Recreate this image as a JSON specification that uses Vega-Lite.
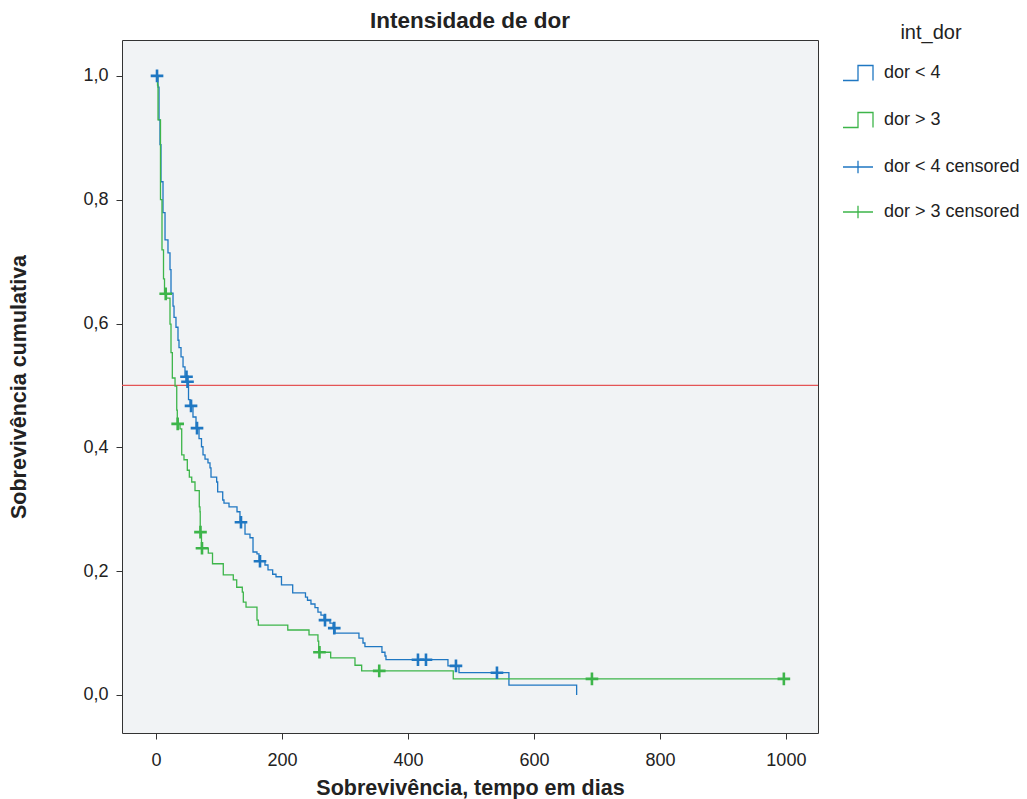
{
  "$schema": "https://vega.github.io/schema/vega-lite/v6.json",
  "autosize": "none",
  "width": 696,
  "height": 693,
  "padding": {"left": 122, "top": 40, "right": 209, "bottom": 66},
  "background": "white",
  "config": {
    "font": "Liberation Sans",
    "view": {"fill": "#f1f3f5", "stroke": "#333333", "strokeWidth": 1},
    "axis": {"grid": false, "domain": false, "tickColor": "#333333", "tickSize": 6, "labelFontSize": 18, "labelColor": "#222222", "titleFontSize": 21.5, "titleFontWeight": "bold", "titleColor": "#222222", "labelFont": "Liberation Sans", "titleFont": "Liberation Sans"}
  },
  "title": {"text": "Intensidade de dor", "fontSize": 22.5, "fontWeight": "bold", "font": "Liberation Sans", "color": "#222222", "offset": -9, "anchor": "middle"},
  "datasets": {
    "curve": [
      {"series": "dor < 4", "t": 0, "s": 1.0},
      {"series": "dor < 4", "t": 3.2, "s": 0.982},
      {"series": "dor < 4", "t": 4.8, "s": 0.929},
      {"series": "dor < 4", "t": 6.3, "s": 0.889},
      {"series": "dor < 4", "t": 7.9, "s": 0.829},
      {"series": "dor < 4", "t": 11.1, "s": 0.779},
      {"series": "dor < 4", "t": 14.3, "s": 0.735},
      {"series": "dor < 4", "t": 19.0, "s": 0.714},
      {"series": "dor < 4", "t": 22.2, "s": 0.687},
      {"series": "dor < 4", "t": 23.8, "s": 0.649},
      {"series": "dor < 4", "t": 27.0, "s": 0.628},
      {"series": "dor < 4", "t": 28.6, "s": 0.610},
      {"series": "dor < 4", "t": 31.7, "s": 0.594},
      {"series": "dor < 4", "t": 34.9, "s": 0.573},
      {"series": "dor < 4", "t": 36.5, "s": 0.561},
      {"series": "dor < 4", "t": 39.7, "s": 0.546},
      {"series": "dor < 4", "t": 42.9, "s": 0.530},
      {"series": "dor < 4", "t": 46.0, "s": 0.514},
      {"series": "dor < 4", "t": 49.2, "s": 0.506},
      {"series": "dor < 4", "t": 51.6, "s": 0.477},
      {"series": "dor < 4", "t": 54.0, "s": 0.467},
      {"series": "dor < 4", "t": 58.7, "s": 0.449},
      {"series": "dor < 4", "t": 63.5, "s": 0.431},
      {"series": "dor < 4", "t": 68.3, "s": 0.414},
      {"series": "dor < 4", "t": 72.2, "s": 0.401},
      {"series": "dor < 4", "t": 74.6, "s": 0.388},
      {"series": "dor < 4", "t": 77.8, "s": 0.381},
      {"series": "dor < 4", "t": 82.5, "s": 0.375},
      {"series": "dor < 4", "t": 85.7, "s": 0.367},
      {"series": "dor < 4", "t": 87.3, "s": 0.352},
      {"series": "dor < 4", "t": 96.3, "s": 0.344},
      {"series": "dor < 4", "t": 97.9, "s": 0.328},
      {"series": "dor < 4", "t": 105.9, "s": 0.315},
      {"series": "dor < 4", "t": 107.9, "s": 0.310},
      {"series": "dor < 4", "t": 115.9, "s": 0.304},
      {"series": "dor < 4", "t": 128.6, "s": 0.296},
      {"series": "dor < 4", "t": 133.3, "s": 0.279},
      {"series": "dor < 4", "t": 141.3, "s": 0.260},
      {"series": "dor < 4", "t": 149.2, "s": 0.254},
      {"series": "dor < 4", "t": 154.0, "s": 0.231},
      {"series": "dor < 4", "t": 160.3, "s": 0.228},
      {"series": "dor < 4", "t": 163.5, "s": 0.216},
      {"series": "dor < 4", "t": 173.0, "s": 0.210},
      {"series": "dor < 4", "t": 177.8, "s": 0.202},
      {"series": "dor < 4", "t": 185.2, "s": 0.195},
      {"series": "dor < 4", "t": 190.5, "s": 0.191},
      {"series": "dor < 4", "t": 199.2, "s": 0.178},
      {"series": "dor < 4", "t": 217.0, "s": 0.165},
      {"series": "dor < 4", "t": 237.3, "s": 0.158},
      {"series": "dor < 4", "t": 240.5, "s": 0.153},
      {"series": "dor < 4", "t": 246.0, "s": 0.147},
      {"series": "dor < 4", "t": 252.4, "s": 0.141},
      {"series": "dor < 4", "t": 257.1, "s": 0.134},
      {"series": "dor < 4", "t": 261.9, "s": 0.129},
      {"series": "dor < 4", "t": 266.7, "s": 0.121},
      {"series": "dor < 4", "t": 276.2, "s": 0.116},
      {"series": "dor < 4", "t": 281.0, "s": 0.108},
      {"series": "dor < 4", "t": 284.1, "s": 0.100},
      {"series": "dor < 4", "t": 322.2, "s": 0.092},
      {"series": "dor < 4", "t": 328.6, "s": 0.084},
      {"series": "dor < 4", "t": 331.7, "s": 0.078},
      {"series": "dor < 4", "t": 358.7, "s": 0.069},
      {"series": "dor < 4", "t": 363.5, "s": 0.063},
      {"series": "dor < 4", "t": 365.1, "s": 0.057},
      {"series": "dor < 4", "t": 463.5, "s": 0.047},
      {"series": "dor < 4", "t": 481.0, "s": 0.036},
      {"series": "dor < 4", "t": 560.3, "s": 0.016},
      {"series": "dor < 4", "t": 667.8, "s": 0.0},
      {"series": "dor > 3", "t": 0, "s": 1.0},
      {"series": "dor > 3", "t": 2.4, "s": 0.985},
      {"series": "dor > 3", "t": 3.2, "s": 0.929},
      {"series": "dor > 3", "t": 7.1, "s": 0.800},
      {"series": "dor > 3", "t": 9.5, "s": 0.719},
      {"series": "dor > 3", "t": 11.9, "s": 0.672},
      {"series": "dor > 3", "t": 13.5, "s": 0.648},
      {"series": "dor > 3", "t": 16.7, "s": 0.641},
      {"series": "dor > 3", "t": 22.2, "s": 0.599},
      {"series": "dor > 3", "t": 23.8, "s": 0.553},
      {"series": "dor > 3", "t": 25.9, "s": 0.512},
      {"series": "dor > 3", "t": 30.2, "s": 0.499},
      {"series": "dor > 3", "t": 32.9, "s": 0.460},
      {"series": "dor > 3", "t": 33.8, "s": 0.438},
      {"series": "dor > 3", "t": 38.1, "s": 0.430},
      {"series": "dor > 3", "t": 40.8, "s": 0.388},
      {"series": "dor > 3", "t": 44.4, "s": 0.380},
      {"series": "dor > 3", "t": 49.7, "s": 0.363},
      {"series": "dor > 3", "t": 52.9, "s": 0.352},
      {"series": "dor > 3", "t": 56.7, "s": 0.344},
      {"series": "dor > 3", "t": 61.9, "s": 0.330},
      {"series": "dor > 3", "t": 68.7, "s": 0.304},
      {"series": "dor > 3", "t": 69.8, "s": 0.296},
      {"series": "dor > 3", "t": 70.2, "s": 0.263},
      {"series": "dor > 3", "t": 72.2, "s": 0.237},
      {"series": "dor > 3", "t": 83.0, "s": 0.229},
      {"series": "dor > 3", "t": 89.7, "s": 0.212},
      {"series": "dor > 3", "t": 106.8, "s": 0.194},
      {"series": "dor > 3", "t": 122.7, "s": 0.186},
      {"series": "dor > 3", "t": 128.1, "s": 0.174},
      {"series": "dor > 3", "t": 137.0, "s": 0.166},
      {"series": "dor > 3", "t": 138.6, "s": 0.150},
      {"series": "dor > 3", "t": 142.9, "s": 0.142},
      {"series": "dor > 3", "t": 160.3, "s": 0.121},
      {"series": "dor > 3", "t": 162.4, "s": 0.113},
      {"series": "dor > 3", "t": 209.2, "s": 0.105},
      {"series": "dor > 3", "t": 242.9, "s": 0.097},
      {"series": "dor > 3", "t": 257.1, "s": 0.087},
      {"series": "dor > 3", "t": 258.3, "s": 0.069},
      {"series": "dor > 3", "t": 277.3, "s": 0.060},
      {"series": "dor > 3", "t": 315.9, "s": 0.048},
      {"series": "dor > 3", "t": 326.5, "s": 0.039},
      {"series": "dor > 3", "t": 471.9, "s": 0.026},
      {"series": "dor > 3", "t": 1000, "s": 0.026}
    ],
    "censor": [
      {"series": "dor < 4 censored", "t": 1.6, "s": 1.0},
      {"series": "dor < 4 censored", "t": 48.4, "s": 0.514},
      {"series": "dor < 4 censored", "t": 50.0, "s": 0.506},
      {"series": "dor < 4 censored", "t": 55.6, "s": 0.467},
      {"series": "dor < 4 censored", "t": 65.1, "s": 0.431},
      {"series": "dor < 4 censored", "t": 134.9, "s": 0.279},
      {"series": "dor < 4 censored", "t": 165.1, "s": 0.216},
      {"series": "dor < 4 censored", "t": 268.3, "s": 0.121},
      {"series": "dor < 4 censored", "t": 283.0, "s": 0.108},
      {"series": "dor < 4 censored", "t": 415.9, "s": 0.057},
      {"series": "dor < 4 censored", "t": 428.6, "s": 0.057},
      {"series": "dor < 4 censored", "t": 476.2, "s": 0.047},
      {"series": "dor < 4 censored", "t": 541.3, "s": 0.036},
      {"series": "dor > 3 censored", "t": 15.4, "s": 0.648},
      {"series": "dor > 3 censored", "t": 34.4, "s": 0.438},
      {"series": "dor > 3 censored", "t": 70.6, "s": 0.263},
      {"series": "dor > 3 censored", "t": 73.0, "s": 0.237},
      {"series": "dor > 3 censored", "t": 259.5, "s": 0.069},
      {"series": "dor > 3 censored", "t": 354.4, "s": 0.039},
      {"series": "dor > 3 censored", "t": 692.1, "s": 0.026},
      {"series": "dor > 3 censored", "t": 996.8, "s": 0.026}
    ],
    "ref": [{"s": 0.5}]
  },
  "encoding": {
    "x": {"field": "t", "type": "quantitative", "scale": {"domain": [-54, 1051], "nice": false, "zero": false},
      "axis": {"values": [0, 200, 400, 600, 800, 1000], "format": "d", "title": "Sobrevivência, tempo em dias", "labelPadding": 12, "titlePadding": 8}},
    "y": {"field": "s", "type": "quantitative", "scale": {"domain": [-0.0614, 1.058], "nice": false, "zero": false},
      "axis": {"values": [0, 0.2, 0.4, 0.6, 0.8, 1.0], "labelExpr": "replace(format(datum.value, '.1f'), '.', ',')", "title": "Sobrevivência cumulativa", "labelPadding": 8, "titlePadding": 52}}
  },
  "layer": [
    {
      "data": {"name": "ref"},
      "mark": {"type": "rule", "stroke": "#e45456", "strokeWidth": 1.3},
      "encoding": {"y": {"field": "s", "type": "quantitative"}, "x": null}
    },
    {
      "data": {"name": "curve"},
      "mark": {"type": "line", "interpolate": "step-after", "strokeWidth": 1.3},
      "encoding": {
        "stroke": {"field": "series", "type": "nominal", "legend": null,
          "scale": {"domain": ["dor > 3", "dor < 4", "dor > 3 censored", "dor < 4 censored"], "range": ["#3db54a", "#1f77c2", "#3db54a", "#1f77c2"]}},
        "order": {"field": "t", "type": "quantitative"}
      }
    },
    {
      "data": {"name": "censor"},
      "mark": {"type": "point", "filled": false, "strokeWidth": 2.6, "size": 160, "opacity": 1, "shape": "M-1,0H1M0,-1V1"},
      "encoding": {
        "stroke": {"field": "series", "type": "nominal", "legend": null}
      }
    },
    {
      "data": {"name": "censor"},
      "mark": {"type": "point", "filled": false, "strokeWidth": 1.3, "size": 160, "opacity": 0},
      "encoding": {
        "color": {"field": "series", "type": "nominal",
          "scale": {"domain": ["dor < 4", "dor > 3", "dor < 4 censored", "dor > 3 censored"], "range": ["#1f77c2", "#3db54a", "#1f77c2", "#3db54a"]},
          "legend": {"title": "int_dor", "orient": "none", "legendX": 720, "legendY": -17, "titleFontSize": 20, "titleFontWeight": "normal", "titleColor": "#222222", "titleAnchor": "middle", "titlePadding": 14, "labelFontSize": 18, "labelColor": "#222222", "labelOffset": 10, "symbolSize": 900, "symbolStrokeWidth": 1.3, "symbolOpacity": 1, "rowPadding": 20, "symbolFillColor": "transparent"}},
        "shape": {"field": "series", "type": "nominal",
          "scale": {"domain": ["dor < 4", "dor > 3", "dor < 4 censored", "dor > 3 censored"], "range": ["M-1,0.5H0V-0.5H1V0.5", "M-1,0.5H0V-0.5H1V0.5", "M-1,0H1M0,-0.42V0.42M-0.4,0H0.4", "M-1,0H1M0,-0.42V0.42M-0.4,0H0.4"]},
          "legend": {"title": "int_dor"}}
      }
    }
  ]
}
